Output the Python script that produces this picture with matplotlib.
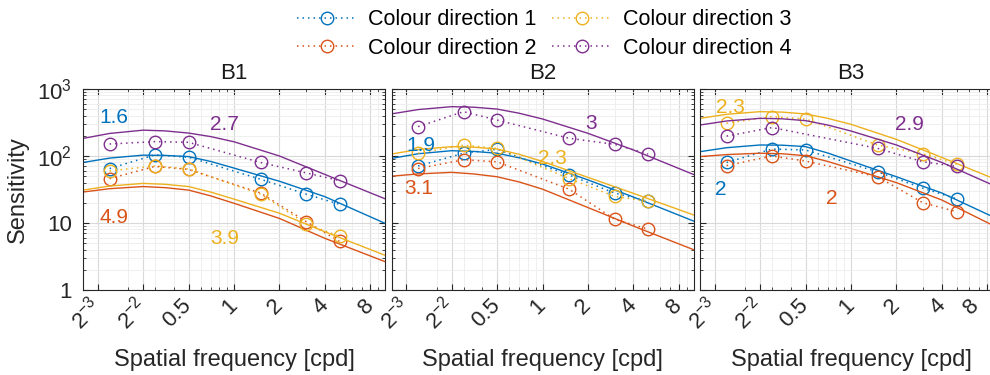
import numpy as np
import matplotlib
matplotlib.use("Agg")
import matplotlib.pyplot as plt
from matplotlib.ticker import NullFormatter, LogLocator
from matplotlib.transforms import ScaledTranslation

plt.rcParams['font.family'] = ['Liberation Sans', 'DejaVu Sans']
plt.rcParams['mathtext.fontset'] = 'custom'
plt.rcParams['mathtext.rm'] = 'Liberation Sans'
plt.rcParams['mathtext.it'] = 'Liberation Sans:italic'
plt.rcParams['mathtext.default'] = 'regular'

# measured spatial frequencies [cpd]
freqs = [0.15, 0.3, 0.5, 1.5, 3, 5]
fit_freqs = [0.1, 0.15, 0.25, 0.35, 0.5, 0.7, 1, 2, 4, 10]

series_names = ["Colour direction 1", "Colour direction 2",
                "Colour direction 3", "Colour direction 4"]
panel_titles = ["B1", "B2", "B3"]

# measured sensitivities (circles)
b1_cd1 = [65, 104, 96, 45, 27, 19]
b1_cd2 = [46, 70, 63, 28, 10.5, 5.3]
b1_cd3 = [60, 71, 64, 27, 9.8, 6.3]
b1_cd4 = [151, 164, 160, 80, 56, 43]

b2_cd1 = [71, 110, 126, 52, 28, 21]
b2_cd2 = [65, 88, 82, 32, 11.4, 8.1]
b2_cd3 = [110, 145, 130, 46, 25, 21]
b2_cd4 = [274, 459, 344, 184, 149, 107]

b3_cd1 = [80, 127, 123, 58, 33, 23]
b3_cd2 = [72, 100, 84, 49, 20, 14.8]
b3_cd3 = [308, 387, 357, 146, 108, 75]
b3_cd4 = [198, 266, np.nan, 130, 82, 70]

# fitted curves (solid lines)
b1_fit1 = [80, 93, 103, 102, 98, 83, 66, 42, 24.7, 9.9]
b1_fit2 = [29, 32.5, 35, 33.7, 31, 25.4, 19.7, 11.7, 5.9, 2.65]
b1_fit3 = [31, 35.6, 39, 37.8, 35, 29, 22.7, 14, 7.4, 3.3]
b1_fit4 = [183, 217, 243, 237, 220, 195, 163, 100, 53, 23]

b2_fit1 = [92, 108, 120, 117, 110, 94, 76, 44, 24.4, 10.7]
b2_fit2 = [50, 54, 57, 54, 49, 41, 32, 17, 9.0, 4.0]
b2_fit3 = [107, 125, 138, 135.5, 127, 106, 83, 48, 27.7, 13.2]
b2_fit4 = [425, 493, 545, 535, 502, 435, 357, 218, 123, 53]

b3_fit1 = [116, 133, 146, 145, 138, 111, 84, 49, 28, 10.7]
b3_fit2 = [98, 105, 110, 108, 101, 83, 65, 40, 22, 7.9]
b3_fit3 = [365, 419, 459, 452, 424, 365, 297, 177, 95, 41]
b3_fit4 = [290, 333, 365, 359, 337, 290, 236, 146, 80, 32]

# numbers written inside each panel
b1_notes = ["1.6", "4.9", "3.9", "2.7"]
b2_notes = ["1.9", "3.1", "2.3", "3"]
b3_notes = ["2", "2", "2.3", "2.9"]

xtick_vals = [0.125, 0.25, 0.5, 1, 2, 4, 8]
xtick_text = ['$2^{-3}$', '$2^{-2}$', '0.5', '1', '2', '4', '8']
ytick_vals = [1, 10, 100, 1000]
ytick_text = ['1', '10', '$10^2$', '$10^3$']

colors = ['#0072BD', '#D95319', '#EDB120', '#7E2F8E']
# note positions (data coords) per panel, same order as the notes
note_pos = [
    [(0.16, 370), (0.16, 11.9), (0.87, 5.8), (0.87, 300)],
    [(0.157, 142), (0.152, 33), (1.17, 92), (2.09, 308)],
    [(0.137, 31.8), (0.75, 23.4), (0.158, 533), (2.42, 300)],
]

panels = [
    ([b1_cd1, b1_cd2, b1_cd3, b1_cd4], [b1_fit1, b1_fit2, b1_fit3, b1_fit4], b1_notes),
    ([b2_cd1, b2_cd2, b2_cd3, b2_cd4], [b2_fit1, b2_fit2, b2_fit3, b2_fit4], b2_notes),
    ([b3_cd1, b3_cd2, b3_cd3, b3_cd4], [b3_fit1, b3_fit2, b3_fit3, b3_fit4], b3_notes),
]

W, H = 990, 375
fig = plt.figure(figsize=(W / 100, H / 100), dpi=100)
lefts = [83, 391.5, 700]
dark = '#262626'

handles = []
axes = []
for i, (pts, fits, notes) in enumerate(panels):
    ax = fig.add_axes([lefts[i] / W, 85 / H, 302 / W, 201 / H])
    axes.append(ax)
    ax.set_xscale('log')
    ax.set_yscale('log')

    for k in range(4):
        y = np.array(pts[k], dtype=float)
        ok = ~np.isnan(y)
        h, = ax.plot(np.array(freqs)[ok], y[ok], ls=(0, (1, 2.6)), lw=1.1,
                     color=colors[k], marker='o', ms=9, mfc='none', mew=1.0)
        if i == 0:
            handles.append(h)
        ax.plot(fit_freqs, fits[k], '-', lw=1.0, color=colors[k])

    for k, s in enumerate(notes):
        ax.text(note_pos[i][k][0], note_pos[i][k][1], s, color=colors[k],
                ha='center', va='center', fontsize=15)

    ax.set_xlim(0.1, 10)
    ax.set_ylim(1, 1000)
    ax.set_xticks(xtick_vals)
    ax.set_xticklabels(xtick_text, rotation=45, ha='right', va='center',
                       rotation_mode='anchor')
    ax.xaxis.set_minor_locator(LogLocator(base=10, subs=np.arange(2, 10)))
    ax.xaxis.set_minor_formatter(NullFormatter())
    ax.set_yticks(ytick_vals)
    ax.yaxis.set_minor_locator(LogLocator(base=10, subs=np.arange(2, 10)))
    ax.yaxis.set_minor_formatter(NullFormatter())
    if i == 0:
        ax.set_yticklabels(ytick_text)
        ax.set_ylabel('Sensitivity', fontsize=17, color=dark, labelpad=6)
    else:
        ax.tick_params(axis='y', labelleft=False)

    ax.tick_params(which='both', direction='in', top=True, right=True,
                   color=dark, labelcolor=dark, labelsize=16)
    ax.tick_params(which='major', length=4, width=0.8)
    ax.tick_params(which='minor', length=2.5, width=0.6)
    ax.tick_params(axis='y', pad=8)
    ax.tick_params(axis='x', pad=9)

    ax.grid(True, which='major', color='#d9d9d9', lw=0.8)
    ax.grid(True, which='minor', color='#ededed', lw=0.6)
    ax.set_axisbelow(True)
    for sp in ax.spines.values():
        sp.set_color(dark)
        sp.set_linewidth(0.8)

    ax.set_title(panel_titles[i], fontsize=16, color='#1a1a1a', pad=7)
    ax.set_xlabel('Spatial frequency [cpd]', fontsize=17, color=dark, labelpad=11)

# the last panel runs past the right edge; pull its "8" label back in view
last = axes[2].xaxis.get_major_ticks()[-1].label1
last.set_transform(last.get_transform() +
                   ScaledTranslation(-8 / 72, 0, fig.dpi_scale_trans))

fig.legend(handles, series_names, loc='center',
           bbox_to_anchor=(544 / W, 1 - 34 / H), ncol=2, frameon=False,
           fontsize=15.5, handlelength=2.8, handletextpad=0.5,
           columnspacing=0.7, labelspacing=0.35, borderpad=0)

fig.savefig('out.png', dpi=100)
